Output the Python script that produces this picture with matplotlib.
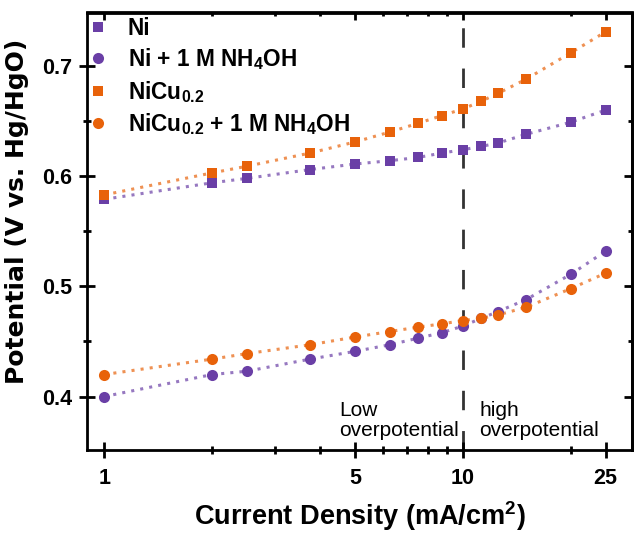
import matplotlib
matplotlib.use("Agg")
import matplotlib.pyplot as plt
from matplotlib.ticker import FixedLocator, NullFormatter, FixedFormatter

plt.rcParams['font.family'] = ['Liberation Sans', 'DejaVu Sans']
plt.rcParams['mathtext.fontset'] = 'custom'
plt.rcParams['mathtext.rm'] = 'Liberation Sans:bold'
plt.rcParams['mathtext.bf'] = 'Liberation Sans:bold'
plt.rcParams['mathtext.default'] = 'bf'

current = [1, 2, 2.5, 3.75, 5, 6.25, 7.5, 8.75, 10, 11.25, 12.5, 15, 20, 25]
ni = [0.579, 0.594, 0.598, 0.606, 0.611, 0.614, 0.617, 0.621, 0.624, 0.627, 0.630, 0.638, 0.649, 0.660]
ni_nh4oh = [0.400, 0.420, 0.423, 0.434, 0.441, 0.447, 0.453, 0.458, 0.464, 0.471, 0.477, 0.488, 0.511, 0.532]
nicu = [0.583, 0.603, 0.609, 0.621, 0.631, 0.640, 0.648, 0.655, 0.661, 0.668, 0.675, 0.688, 0.712, 0.731]
nicu_nh4oh = [0.420, 0.434, 0.439, 0.447, 0.454, 0.459, 0.463, 0.466, 0.469, 0.471, 0.474, 0.481, 0.498, 0.512]

labels = ['Ni', 'Ni + 1 M NH$_4$OH', 'NiCu$_{0.2}$', 'NiCu$_{0.2}$ + 1 M NH$_4$OH']
xticks_major = [1, 5, 10, 25]
xticks_minor = [2, 3, 4, 6, 7, 8, 9, 20]
yticks_major = [0.4, 0.5, 0.6, 0.7]
yticks_minor = [0.45, 0.55, 0.65]

purple = '#6A3FA6'
orange = '#E8620A'

fig = plt.figure(figsize=(6.35, 5.33), dpi=100)
ax = fig.add_axes([87/635, 1-450/533, (632-87)/635, (450-12.5)/533])

series = [(ni, purple, 's', 7.0), (ni_nh4oh, purple, 'o', 8.0),
          (nicu, orange, 's', 7.0), (nicu_nh4oh, orange, 'o', 8.0)]
handles = []
for (vals, col, mk, ms), lab in zip(series, labels):
    ax.plot(current, vals, linestyle=(0, (1, 2)), color=col, alpha=0.7, lw=2.2, zorder=2)
    h, = ax.plot(current, vals, linestyle='none', marker=mk, color=col, ms=ms,
                 markeredgewidth=0, label=lab, zorder=3)
    handles.append(h)

ax.axvline(10, color='#333333', lw=2, linestyle=(0, (7, 7.5)), zorder=1)

ax.set_xscale('log')
ax.set_xlim(0.895, 29.6)
ax.set_ylim(0.3515, 0.7485)

ax.xaxis.set_major_locator(FixedLocator(xticks_major))
ax.xaxis.set_major_formatter(FixedFormatter([str(v) for v in xticks_major]))
ax.xaxis.set_minor_locator(FixedLocator(xticks_minor))
ax.xaxis.set_minor_formatter(NullFormatter())
ax.yaxis.set_major_locator(FixedLocator(yticks_major))
ax.yaxis.set_major_formatter(FixedFormatter([f'{v:.1f}' for v in yticks_major]))
ax.yaxis.set_minor_locator(FixedLocator(yticks_minor))

for sp in ax.spines.values():
    sp.set_linewidth(2)

ax.tick_params(axis='both', which='major', direction='inout', length=12, width=2,
               labelsize=15.5)
ax.tick_params(axis='both', which='minor', direction='inout', length=5.5, width=2)
for lab in ax.get_xticklabels() + ax.get_yticklabels():
    lab.set_fontweight('bold')
ax.tick_params(axis='x', which='major', pad=7)
ax.tick_params(axis='y', which='major', pad=4.5)

ax_top = ax.secondary_xaxis('top')
ax_top.xaxis.set_major_locator(FixedLocator(xticks_major))
ax_top.xaxis.set_minor_locator(FixedLocator(xticks_minor))
ax_top.xaxis.set_major_formatter(NullFormatter())
ax_top.xaxis.set_minor_formatter(NullFormatter())
ax_top.tick_params(which='major', direction='in', length=5.5, width=2)
ax_top.tick_params(which='minor', direction='in', length=3, width=2)
ax_top.spines['top'].set_linewidth(2)

ax_right = ax.secondary_yaxis('right')
ax_right.yaxis.set_major_locator(FixedLocator(yticks_major))
ax_right.yaxis.set_minor_locator(FixedLocator(yticks_minor))
ax_right.yaxis.set_major_formatter(NullFormatter())
ax_right.yaxis.set_minor_formatter(NullFormatter())
ax_right.tick_params(which='major', direction='in', length=5.5, width=2)
ax_right.tick_params(which='minor', direction='in', length=3, width=2)
ax_right.spines['right'].set_linewidth(2)

ax.set_xlabel('Current Density (mA/cm$^2$)', fontsize=19.5, fontweight='bold', labelpad=7)
ax.set_ylabel('Potential (V vs. Hg/HgO)', fontsize=18, fontweight='bold',
              family=['DejaVu Sans'])
ax.yaxis.set_label_coords(-0.106, 0.545)

ax.text(4.52, 0.3782, 'Low\noverpotential', ha='left', va='center', fontsize=15,
        linespacing=1.1)
ax.text(11.09, 0.3782, 'high\noverpotential', ha='left', va='center', fontsize=15,
        linespacing=1.1)

leg = ax.legend(handles=handles, loc='upper left', frameon=False,
                prop={'weight': 'bold', 'size': 16.3}, handlelength=0.6,
                handletextpad=1.0, borderaxespad=0.2, labelspacing=0.28,
                borderpad=0.0)

fig.savefig('out.png', dpi=100)
